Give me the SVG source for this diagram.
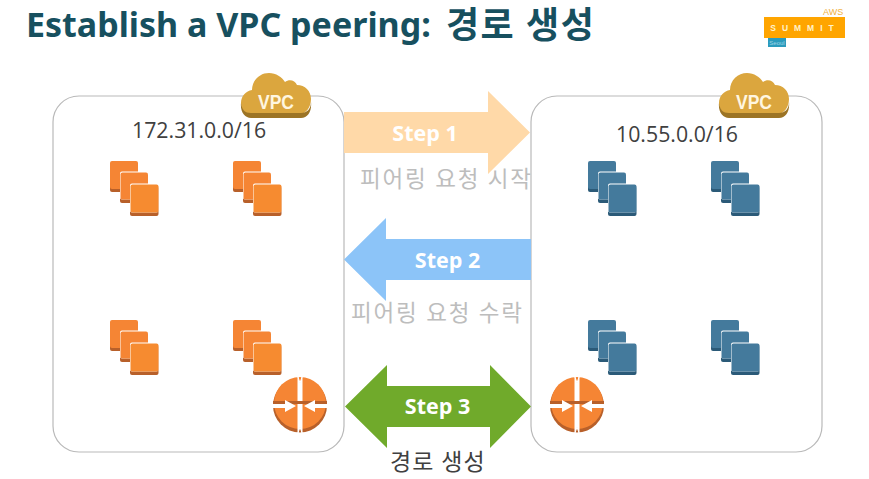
<svg xmlns="http://www.w3.org/2000/svg" width="869" height="479" viewBox="0 0 869 479">
<style>
.t{font-family:"Open Sans","Noto Sans","Noto Sans CJK KR",sans-serif}
.title{font-size:34px;font-weight:700;fill:#17505f;font-family:"Noto Sans","Noto Sans CJK KR",sans-serif}
.cidr{font-size:21.300px;fill:#404040}
.step{font-size:21.500px;font-weight:700;fill:#fff;text-anchor:middle}
.ko{font-size:22.500px;fill:#bdbdbd;letter-spacing:1.800px}
.vpc{font-family:"Liberation Sans",sans-serif;font-size:20px;font-weight:700;fill:#fff6e0;text-anchor:middle}
.box{fill:#fff;stroke:#b9b9b9;stroke-width:1.2}
</style>
<defs>
<g id="orange">
<rect x="0" y="2" width="28" height="29" rx="2" fill="#b8602a"/><rect x="0" y="0" width="28" height="28" rx="2" fill="#f58534"/>
<rect x="10" y="13" width="28" height="29" rx="2" fill="#b8602a"/><rect x="10" y="10.500" width="28.500" height="28" rx="2" fill="#fff"/><rect x="10.500" y="11.500" width="27.500" height="27" rx="2" fill="#f58534"/>
<rect x="20" y="25" width="28.500" height="30" rx="2" fill="#b8602a"/><rect x="20" y="22.500" width="28.500" height="29" rx="2" fill="#fff"/><rect x="20.500" y="23.500" width="28" height="28" rx="2" fill="#f68b30"/>
</g>
<g id="blue">
<rect x="0" y="2" width="28" height="29" rx="2" fill="#2b5a78"/><rect x="0" y="0" width="28" height="28" rx="2" fill="#447a9c"/>
<rect x="10" y="13" width="28" height="29" rx="2" fill="#2b5a78"/><rect x="10" y="10.500" width="28.500" height="28" rx="2" fill="#fff"/><rect x="10.500" y="11.500" width="27.500" height="27" rx="2" fill="#447a9c"/>
<rect x="20" y="25" width="28.500" height="30" rx="2" fill="#2b5a78"/><rect x="20" y="22.500" width="28.500" height="29" rx="2" fill="#fff"/><rect x="20.500" y="23.500" width="28" height="28" rx="2" fill="#447a9c"/>
</g>
<g id="router">
<circle cx="0" cy="0.500" r="27" fill="#b8602a"/>
<circle cx="0" cy="-2" r="26" fill="#f58534"/>
<path d="M-2-28 0-22 2-28V28L0 22-2 28Z" fill="#fff" stroke="#fff" stroke-width="1"/>
<rect x="-27" y="-4" width="54" height="3" fill="#b8602a"/>
<path d="M-28-1H-15V-5L-4 1-15 7V3H-28ZM28-1H15V-5L4 1 15 7V3H28Z" fill="#fff"/>
</g>
<g id="cloud">
<path d="M-26 21C-33 21-35 14-35 10-35 3-30-2-24-3-24-13-16-20-7-20 0-20 6-16 9-11 13-14 19-13 21-8 29-8 35-2 35 6 35 14 30 21 24 21Z" fill="#dba63e"/>
<path d="M-35 10C-34 17-31 20-25 20H25C31 20 35 16 35 9 36 18 32 25 25 25H-25C-31 25-36 19-35 10Z" fill="#9c7425"/>
</g>
</defs>
<rect width="869" height="479" fill="#fff"/>
<text class="title" x="26" y="37">Establish a VPC peering:</text>
<text class="title" x="446" y="38" font-size="36" letter-spacing="1.500" style="font-size:36px">경로 생성</text>
<g id="summit-logo">
<text x="823" y="15" font-family="Liberation Sans,sans-serif" font-size="9" fill="#f0b040">AWS</text>
<rect x="764" y="17" width="81" height="21" fill="#ffa500"/>
<text x="805" y="31" font-family="Liberation Sans,sans-serif" font-size="8.500" font-weight="700" letter-spacing="6" fill="#fff2cc" text-anchor="middle">SUMMIT</text>
<rect x="768" y="38" width="18" height="9" fill="#2b9bbd"/>
<text x="777" y="45" font-family="Liberation Sans,sans-serif" font-size="6" fill="#9fd4e4" text-anchor="middle">Seoul</text>
</g>
<g id="vpc-left">
<rect class="box" x="53" y="96" width="291" height="356" rx="26"/>
<use href="#cloud" x="276" y="93"/>
<text class="vpc" x="276" y="109" textLength="36" lengthAdjust="spacingAndGlyphs">VPC</text>
<text class="t cidr" x="132" y="138">172.31.0.0/16</text>
</g>
<g id="vpc-right">
<rect class="box" x="531" y="96" width="291" height="356" rx="26"/>
<use href="#cloud" x="754" y="93"/>
<text class="vpc" x="754" y="109" textLength="36" lengthAdjust="spacingAndGlyphs">VPC</text>
<text class="t cidr" x="616" y="142">10.55.0.0/16</text>
</g>
<g id="instance-l1"><use href="#orange" x="110" y="161"/></g>
<g id="instance-l2"><use href="#orange" x="233" y="161"/></g>
<g id="instance-l3"><use href="#orange" x="110" y="320"/></g>
<g id="instance-l4"><use href="#orange" x="233" y="320"/></g>
<g id="instance-r1"><use href="#blue" x="588" y="161"/></g>
<g id="instance-r2"><use href="#blue" x="711" y="161"/></g>
<g id="instance-r3"><use href="#blue" x="588" y="320"/></g>
<g id="instance-r4"><use href="#blue" x="711" y="320"/></g>
<g id="router-left"><use href="#router" x="300" y="405"/></g>
<g id="router-right"><use href="#router" x="577" y="405"/></g>
<g id="connectors">
<path d="M344 112H488V91L530 132.500 488 174V153H344Z" fill="#ffd9a8"/>
<path d="M531 239H386V218L344 259.500 386 301V280H531Z" fill="#8cc4f8"/>
<path d="M345 406.500 387 365V386H490V365L531 406.500 490 448V427H387V448Z" fill="#70aa2b"/>
</g>
<g id="labels">
<text class="t step" x="425" y="141">Step 1</text>
<text class="t step" x="447.500" y="268">Step 2</text>
<text class="t step" x="437.500" y="414">Step 3</text>
<text class="t ko" x="360" y="187">피어링 요청 시작</text>
<text class="t ko" x="351" y="321">피어링 요청 수락</text>
<text class="t" x="390" y="470" font-size="23" fill="#404040" letter-spacing="1">경로 생성</text>
</g>
</svg>
